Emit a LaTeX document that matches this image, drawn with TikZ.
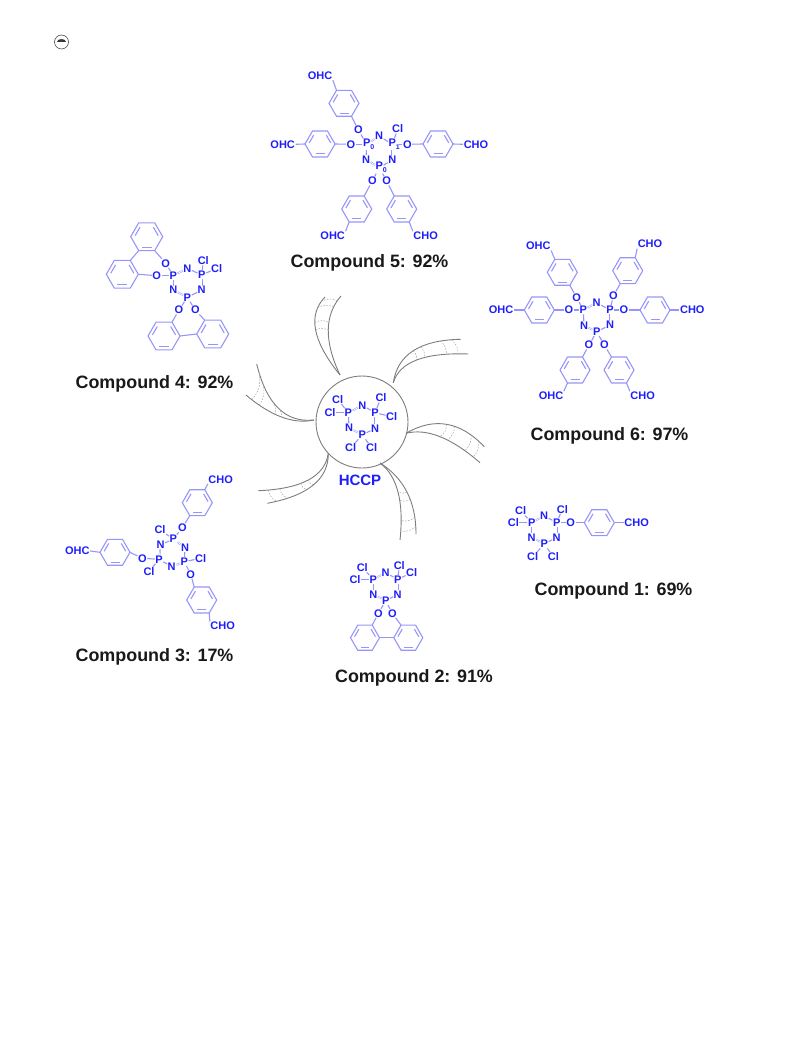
\documentclass[tikz,border=0pt]{standalone}
\usepackage{fontspec}
\usetikzlibrary{calc}
\setmainfont{Liberation Sans}
\definecolor{atomblue}{RGB}{30,30,250}
\definecolor{bondblue}{RGB}{150,150,250}
\definecolor{armgray}{RGB}{125,125,125}
\tikzset{
	atom/.style={font=\fontsize{11}{11}\selectfont\bfseries, text=atomblue, inner sep=0.4pt},
	cpdname/.style={font=\fontsize{17.9}{18}\selectfont\bfseries, text=black!90, inner sep=0pt},
	bond/.style={draw=bondblue, line width=1.1pt},
	dbond/.style={draw=bondblue, line width=0.5pt, double=white, double distance=0.7pt},
	armline/.style={draw=armgray, line width=0.9pt},
	rung/.style={draw=armgray!70, line width=0.5pt, dash pattern=on 1.6pt off 1.4pt},
}
\newcommand{\subn}[1]{\rlap{\raisebox{-3pt}{\fontsize{7}{7}\selectfont #1}}}
\newcommand{\atoms}[2]{\foreach \n/\x/\y/\t in {#2}{\node[atom] (#1\n) at (\x,\y) {\t};}}
\newcommand{\bonds}[2]{\foreach \p/\q in {#2}{\draw[bond] (#1\p) -- (#1\q);}}
\newcommand{\phosring}[1]{
	\foreach \p/\q in {P1/N1,P2/N2,P3/N3}{\draw[dbond] (#1\p) -- (#1\q);}
	\foreach \p/\q in {N1/P2,N2/P3,N3/P1}{\draw[bond] (#1\p) -- (#1\q);}
}
% name, centre x, centre y, radius
\newcommand{\benzene}[4]{
	\foreach \k in {1,...,6}{
		\coordinate (#1\k) at ({#2+#4*cos(60*\k)},{#3+#4*sin(60*\k)});
		\coordinate (#1i\k) at ({#2+0.76*#4*cos(60*\k)},{#3+0.76*#4*sin(60*\k)});
	}
	\draw[bond] (#11) -- (#12) -- (#13) -- (#14) -- (#15) -- (#16) -- cycle;
	\foreach \p/\q in {1/2,3/4,5/6}{\draw[bond,shorten >=1.2pt,shorten <=1.2pt] (#1i\p) -- (#1i\q);}
}
% name, tip, control 1, end 1, control 2, end 2, bend
\newcommand{\arm}[7]{
	\coordinate (#1t) at (#2);
	\coordinate (#1p) at (#3);
	\coordinate (#1a) at (#4);
	\coordinate (#1q) at (#5);
	\coordinate (#1b) at (#6);
	\draw[armline] (#1t) .. controls ($(#1t)!0.667!(#1p)$) and ($(#1a)!0.667!(#1p)$) .. (#1a);
	\draw[armline] (#1t) .. controls ($(#1t)!0.667!(#1q)$) and ($(#1b)!0.667!(#1q)$) .. (#1b);
	\foreach \k/\u in {1/0.5,2/0.6,3/0.82,4/0.92}{
		\path (#1t) .. controls ($(#1t)!0.667!(#1p)$) and ($(#1a)!0.667!(#1p)$) .. (#1a) coordinate[pos=\u] (#1u\k);
		\path (#1t) .. controls ($(#1t)!0.667!(#1q)$) and ($(#1b)!0.667!(#1q)$) .. (#1b) coordinate[pos=\u] (#1v\k);
		\draw[rung] (#1u\k) to[bend #7=25] (#1v\k);
	}
}
\begin{document}
\begin{tikzpicture}[x=1pt,y=-1pt]
	\useasboundingbox (0,0) rectangle (791,1056);

	% lamp mark, top left
	\node[circle,draw=black!80,line width=0.5pt,minimum size=14pt,inner sep=0pt] (lamp) at (61.5,42) {};
	\fill[black!80] (57,42) -- (66,42) arc (0:-180:4.5 and 3) -- cycle;
	\draw[black!70,line width=0.4pt] (61.5,42) -- (61.5,39.5);

	% central core
	\node[circle,draw=armgray,line width=0.9pt,minimum size=92pt,inner sep=0pt] (core) at (362,422) {};
	\arm{ta}{340,375}{298.75,324}{325,297}{316.05,324.55}{341,296}{left}
	\arm{tb}{393.3,382.7}{399.55,340.45}{460.7,339.3}{402.6,351.6}{468.3,354}{left}
	\arm{tc}{406,433.3}{448.2,408.65}{484.3,446.7}{437,425.35}{480,462.7}{left}
	\arm{td}{380,463}{416,485.75}{416,534}{406.05,482.75}{400,540}{left}
	\arm{te}{328.3,453.3}{323.3,488}{258.3,490.7}{328.7,491.8}{267.3,503.3}{right}
	\arm{tf}{314,420}{271.45,424.55}{256.7,364}{283.45,426.7}{246,395}{left}

	\atoms{h}{P1/348.3/412.7/P,N1/362.3/405.3/N,P2/375/412.7/P,N2/375/428.3/N,P3/362.3/435/P,N3/349/427.7/N,
		Cl1/337.7/399.3/Cl,Cl2/330/412.7/Cl,Cl3/381/398/Cl,Cl4/391.7/416.7/Cl,Cl5/350.7/447.7/Cl,Cl6/371.7/447.7/Cl}
	\phosring{h}
	\bonds{h}{P1/Cl1,P1/Cl2,P2/Cl3,P2/Cl4,P3/Cl5,P3/Cl6}
	\node[font=\fontsize{15}{15}\selectfont\bfseries,text=atomblue,inner sep=0pt] (hname) at (360,480) {HCCP};

	% compound 5
	\atoms{e}{P1/366.7/144.3/P\subn{0},N1/379/136/N,P2/392.3/144.3/P\subn{1},N2/392.3/160/N,P3/379.3/167.7/P\subn{0},N3/366/159.3/N,
		Cl1/397.7/129/Cl,O1/358.3/130/O,O2/351/144.3/O,O3/407.3/144.3/O,O4/372.3/181/O,O5/386.7/181/O,
		F1/320/75.7/OHC,F2/282.7/144.3/OHC,F3/476/144.3/CHO,F4/332.7/235.7/OHC,F5/425.7/235.7/CHO}
	\phosring{e}
	\benzene{eA}{344}{103.3}{15}
	\benzene{eB}{320}{144}{15}
	\benzene{eC}{438}{144}{15}
	\benzene{eD}{356.7}{209}{15}
	\benzene{eE}{401.7}{209}{15}
	\bonds{e}{P2/Cl1,P1/O1,P1/O2,P2/O3,P3/O4,P3/O5,A1/O1,B6/O2,C3/O3,D5/O4,E4/O5}
	\bonds{e}{A4/F1.south east,B3/F2.east,C6/F3.west,D2/F4.north east,E1/F5.north west}
	\node[cpdname] (name5) at (369.5,263) {Compound 5: 92\%};

	% compound 6
	\atoms{s}{P1/583.3/310/P,N1/596.7/302.7/N,P2/610/310/P,N2/610/325/N,P3/596.7/331.7/P,N3/584/325.7/N,
		O1/576.7/297.7/O,O2/613.3/296/O,O3/569/310/O,O4/624/310/O,O5/589/345/O,O6/604.3/345/O,
		F1/538.3/246/OHC,F2/650/244/CHO,F3/501/310/OHC,F4/692.3/310/CHO,F5/551/395.7/OHC,F6/642.7/395.7/CHO}
	\phosring{s}
	\benzene{sA}{562.3}{272.3}{15}
	\benzene{sB}{627.7}{270.7}{15}
	\benzene{sC}{539.3}{310}{15}
	\benzene{sD}{655}{310}{15}
	\benzene{sE}{575}{370}{15}
	\benzene{sG}{619}{370}{15}
	\bonds{s}{P1/O1,P2/O2,P1/O3,P2/O4,P3/O5,P3/O6,A1/O1,B2/O2,C6/O3,D3/O4,E5/O5,G4/O6}
	\bonds{s}{A4/F1.south east,B5/F2.south west,C3/F3.east,D6/F4.west,E2/F5.north east,G1/F6.north west}
	\node[cpdname] (name6) at (609.5,436) {Compound 6: 97\%};

	% compound 4
	\atoms{d}{P1/173.3/275.7/P,N1/187.3/268.3/N,P2/201.7/275/P,N2/201.7/290/N,P3/187.3/297.3/P,N3/173.3/290/N,
		Cl1/203.3/260.7/Cl,Cl2/216.7/268.3/Cl,O1/165.7/263.3/O,O2/156.7/275.7/O,O3/179/310/O,O4/195.3/310/O}
	\phosring{d}
	\benzene{dA}{146.7}{236.7}{16}
	\benzene{dB}{122.3}{274.3}{16}
	\benzene{dC}{164}{336}{16}
	\benzene{dD}{212.7}{334}{16}
	\bonds{d}{P2/Cl1,P2/Cl2,P1/O1,P1/O2,P3/O3,P3/O4,A1/O1,B6/O2,C5/O3,D4/O4,A2/B5,C6/D3}
	\node[cpdname] (name4) at (154.5,384) {Compound 4: 92\%};

	% compound 3
	\atoms{c}{P1/173.3/539/P,N1/185/547.7/N,P2/184.3/561.7/P,N2/171.7/566.7/N,P3/159/559.3/P,N3/160.7/545/N,
		Cl1/160/530/Cl,O1/182.3/527.7/O,Cl2/200.7/558.3/Cl,O2/190.7/574.3/O,O3/142.3/558.3/O,Cl3/149/571.7/Cl,
		F1/220.7/479.3/CHO,F2/77.3/551/OHC,F3/222.7/626/CHO}
	\phosring{c}
	\benzene{cA}{197.3}{502.7}{15}
	\benzene{cB}{115}{552.3}{15}
	\benzene{cC}{201.7}{600}{15}
	\bonds{c}{P1/Cl1,P1/O1,P2/Cl2,P2/O2,P3/O3,P3/Cl3,A2/O1,B6/O3,C4/O2}
	\bonds{c}{A5/F1.south west,B3/F2.east,C1/F3.north west}
	\node[cpdname] (name3) at (154.5,657) {Compound 3: 17\%};

	% compound 2
	\atoms{b}{P1/373.3/579.3/P,N1/385.7/572.7/N,P2/397.7/579.3/P,N2/397.7/594.3/N,P3/385.7/600.7/P,N3/373.3/594.3/N,
		Cl1/362.3/567.7/Cl,Cl2/355/579.3/Cl,Cl3/399.3/565.7/Cl,Cl4/411.7/572.7/Cl,O1/378.3/613.3/O,O2/392.3/613.3/O}
	\phosring{b}
	\benzene{bA}{365}{637.7}{14.5}
	\benzene{bB}{408.3}{637.7}{14.5}
	\bonds{b}{P1/Cl1,P1/Cl2,P2/Cl3,P2/Cl4,P3/O1,P3/O2,A5/O1,B4/O2,A6/B3}
	\node[cpdname] (name2) at (414,678) {Compound 2: 91\%};

	% compound 1
	\atoms{a}{P1/531.7/522.7/P,N1/544/515.7/N,P2/556.7/522.7/P,N2/556.7/537.3/N,P3/544.3/544/P,N3/531.7/537.3/N,
		Cl1/520.7/511/Cl,Cl2/513.3/522.7/Cl,Cl3/562.3/509.3/Cl,Cl4/532.7/556.7/Cl,Cl5/553.3/556.7/Cl,O1/570.7/522.7/O,
		F1/636.7/522.7/CHO}
	\phosring{a}
	\benzene{aA}{599.3}{522.7}{15}
	\bonds{a}{P1/Cl1,P1/Cl2,P2/Cl3,P3/Cl4,P3/Cl5,P2/O1,A3/O1,A6/F1.west}
	\node[cpdname] (name1) at (613.5,591) {Compound 1: 69\%};
\end{tikzpicture}
\end{document}
